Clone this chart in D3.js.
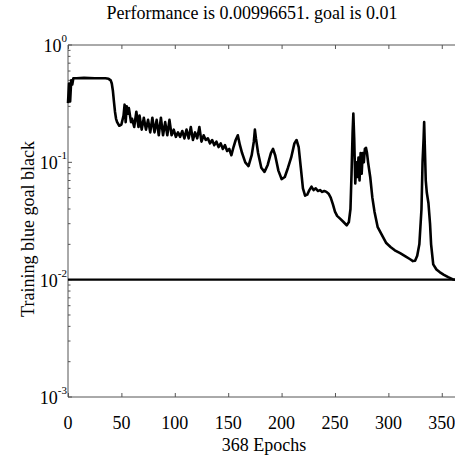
<!DOCTYPE html>
<html>
<head>
<meta charset="utf-8">
<script src="https://cdn.jsdelivr.net/npm/d3@7"></script>
<style>
@font-face{font-family:"ChartSerif";src:local("Liberation Serif"),local("LiberationSerif"),local("Times New Roman")}
body{margin:0;background:#fff}
</style>
</head>
<body>
<svg id="chart" width="455" height="462"></svg>
<script>
// training record
const epochs=[0,1,2,3,4,5,8,15,25,35,38,40,41,42,43,44,45,46,48,50,52,53,54,55,56,57,59,60,62,64,66,67,69,71,73,75,77,79,81,83,85,87,89,91,93,95,97,99,101,103,105,107,109,111,113,115,117,119,121,123,125,127,129,131,133,135,137,139,141,143,145,147,149,151,153,155,157,159,161,163,166,169,172,174,175,176,178,181,184,187,190,192,194,197,200,203,206,209,212,214,216,218,220,222,224,226,228,230,232,234,236,238,240,242,244,246,248,250,252,255,258,261,263,264.5,265.5,266.5,267.2,268,269,270,271,272,273,274,275,276,277,278,279,280,281,283,285,287,290,294,298,302,306,311,316,320,323,325,327,329,331,332,333,333.5,334,335,336,337.5,339,340,342,345,348,352,356,360,364,368]
const perf=[0.32,0.47,0.33,0.5,0.46,0.52,0.52,0.525,0.52,0.52,0.515,0.5,0.47,0.41,0.33,0.27,0.235,0.22,0.205,0.21,0.25,0.31,0.22,0.3,0.26,0.29,0.22,0.235,0.2,0.27,0.2,0.25,0.19,0.24,0.19,0.23,0.18,0.24,0.18,0.23,0.17,0.24,0.17,0.22,0.17,0.23,0.17,0.19,0.165,0.18,0.165,0.185,0.16,0.19,0.16,0.2,0.155,0.18,0.16,0.2,0.15,0.17,0.155,0.16,0.145,0.155,0.14,0.15,0.135,0.145,0.13,0.14,0.125,0.13,0.115,0.135,0.155,0.17,0.14,0.12,0.1,0.093,0.115,0.15,0.19,0.16,0.12,0.09,0.083,0.095,0.12,0.13,0.115,0.085,0.072,0.075,0.09,0.11,0.145,0.155,0.135,0.09,0.06,0.052,0.053,0.058,0.062,0.058,0.06,0.057,0.058,0.056,0.057,0.056,0.054,0.05,0.044,0.038,0.035,0.033,0.031,0.029,0.031,0.04,0.08,0.18,0.26,0.16,0.066,0.1,0.075,0.11,0.07,0.12,0.08,0.12,0.1,0.13,0.133,0.12,0.1,0.075,0.05,0.038,0.028,0.024,0.0205,0.019,0.0178,0.0168,0.0158,0.015,0.0144,0.0145,0.016,0.02,0.04,0.1,0.16,0.22,0.15,0.07,0.055,0.045,0.03,0.02,0.0135,0.0122,0.0116,0.011,0.0105,0.0101,0.0099,0.00996651]
const goal=0.01
const xTicks=[0,50,100,150,200,250,300,350]
const yExps=[0,-1,-2,-3]

const svg=d3.select("#chart")
const pLeft=68,pTop=45,pRight=461,pBottom=397
const face='"Liberation Serif", "ChartSerif", "Times New Roman", serif'

let x=d3.scaleLinear().domain([0,368]).range([pLeft,pRight])
let y=d3.scaleLog().domain([0.001,1]).range([pBottom,pTop])

const axisColor="#555"

// frame
svg.append("line").attr("x1",pLeft).attr("x2",pRight).attr("y1",pTop).attr("y2",pTop)
    .attr("stroke",axisColor).attr("stroke-width",1)
svg.append("line").attr("x1",pLeft).attr("x2",pRight).attr("y1",pBottom).attr("y2",pBottom)
    .attr("stroke",axisColor).attr("stroke-width",1)
svg.append("line").attr("x1",pLeft).attr("x2",pLeft).attr("y1",pTop).attr("y2",pBottom)
    .attr("stroke",axisColor).attr("stroke-width",1)

// x ticks, bottom and top, pointing inward
const gb=svg.append("g").attr("transform",`translate(0,${pBottom})`)
    .call(d3.axisBottom(x).tickValues(xTicks).tickSize(-4).tickFormat(""))
const gt=svg.append("g").attr("transform",`translate(0,${pTop})`)
    .call(d3.axisTop(x).tickValues(xTicks).tickSize(-4).tickFormat(""))
;[gb,gt].forEach(g=>{
    g.select(".domain").remove()
    g.selectAll("line").attr("stroke",axisColor)
})
svg.append("g").selectAll("text").data(xTicks).enter().append("text")
    .attr("x",d=>x(d)).attr("y",429)
    .attr("text-anchor","middle").attr("font-size",18)
    .style("font-family",face,"important")
    .text(d=>d)

// y ticks, major and minor
const minor=[]
for(let e=-3;e<0;e++){
    for(let m=2;m<=9;m++) minor.push(m*Math.pow(10,e))
}
svg.append("g").selectAll("line").data(minor).enter().append("line")
    .attr("x1",pLeft).attr("x2",pLeft+2.5)
    .attr("y1",d=>y(d)).attr("y2",d=>y(d))
    .attr("stroke",axisColor)
svg.append("g").selectAll("line").data(yExps).enter().append("line")
    .attr("x1",pLeft).attr("x2",pLeft+4)
    .attr("y1",d=>y(Math.pow(10,d))).attr("y2",d=>y(Math.pow(10,d)))
    .attr("stroke",axisColor)
const yl=svg.append("g").selectAll("text").data(yExps).enter().append("text")
    .attr("x",67).attr("y",d=>y(Math.pow(10,d))+7)
    .attr("text-anchor","end").attr("font-size",18)
    .style("font-family",face,"important")
yl.append("tspan").text("10")
yl.append("tspan").attr("font-size",11).attr("dy",-10).text(d=>d)

// goal line
svg.append("line").attr("x1",pLeft).attr("x2",pRight)
    .attr("y1",y(goal)).attr("y2",y(goal))
    .attr("stroke","#000").attr("stroke-width",2.2)

// training curve
const pts=epochs.map((e,i)=>[e,perf[i]])
svg.append("path").datum(pts)
    .attr("fill","none").attr("stroke","#000").attr("stroke-width",2.6)
    .attr("stroke-linejoin","round")
    .attr("d",d3.line().x(d=>x(d[0])).y(d=>y(d[1])))

// titles
svg.append("text").attr("x",252).attr("y",19).attr("text-anchor","middle")
    .attr("font-size",18).style("font-family",face,"important")
    .text("Performance is 0.00996651. goal is 0.01")
svg.append("text").attr("x",264).attr("y",451).attr("text-anchor","middle")
    .attr("font-size",18).style("font-family",face,"important")
    .text("368 Epochs")
svg.append("text").attr("transform","translate(34,229) rotate(-90)")
    .attr("text-anchor","middle").attr("font-size",18)
    .style("font-family",face,"important")
    .text("Training blue goal black")
</script>
</body>
</html>
